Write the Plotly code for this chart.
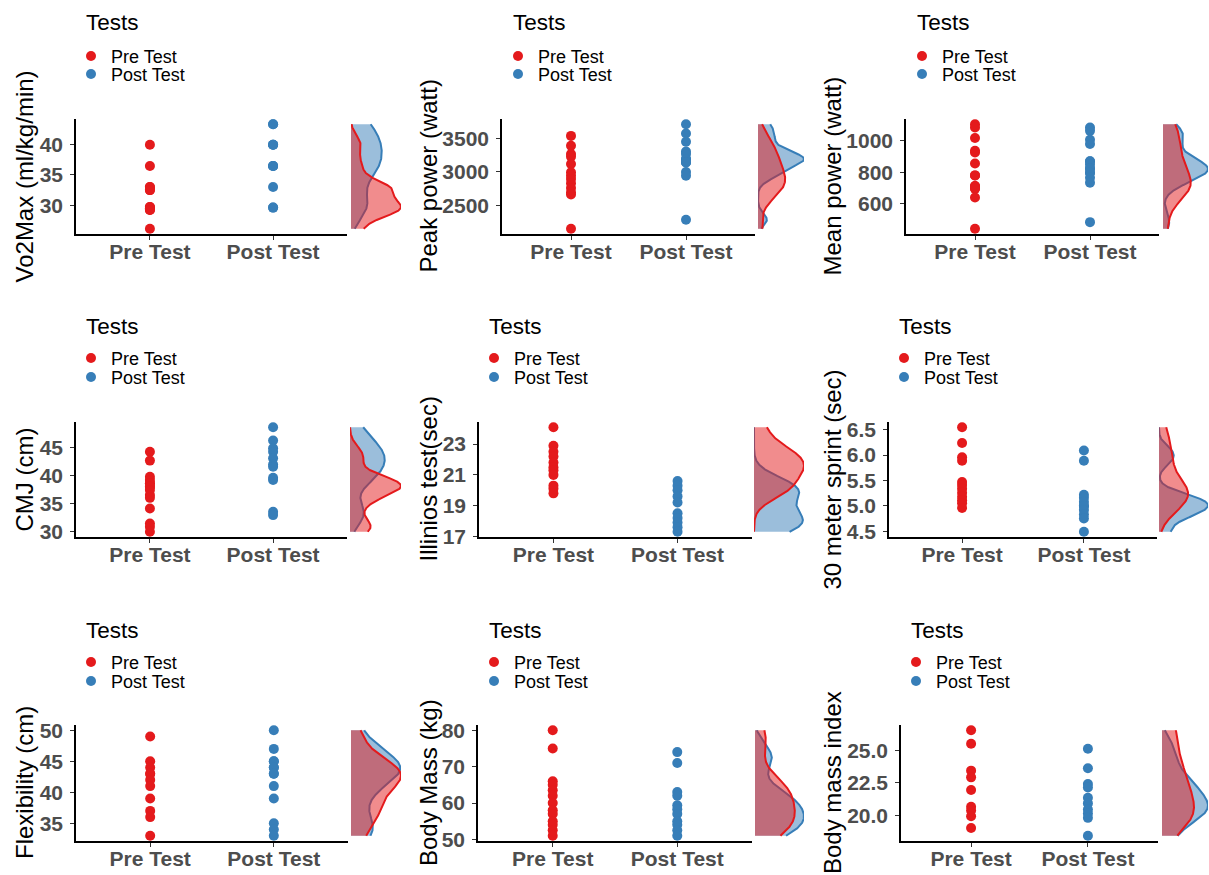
import numpy as np
import plotly.graph_objects as go

# ---------------- data ----------------
groups = ["Pre Test", "Post Test"]

vo2_pre = [40.0, 36.5, 33.0, 33.0, 32.5, 32.5, 29.7, 29.7, 29.5, 29.2, 29.2, 26.1]
vo2_post = [43.4, 43.4, 40.0, 40.0, 40.0, 36.5, 36.5, 36.5, 33.0, 29.6, 29.6]

peak_pre = [3534, 3387, 3264, 3224, 3116, 2993, 2943, 2894, 2830, 2761, 2697, 2663, 2155]
peak_post = [3707, 3569, 3446, 3303, 3264, 3190, 3190, 3140, 3140, 2998, 2943, 2288]

mean_pre = [1105, 1084, 1017, 937, 925, 856, 780, 780, 713, 713, 696, 696, 640, 441]
mean_post = [1084, 1063, 1006, 979, 870, 870, 849, 824, 824, 797, 797, 765, 734, 483]

cmj_pre = [44.3, 42.7, 39.8, 39.2, 38.6, 38.6, 38.0, 38.0, 37.4, 36.5, 36.0, 34.1, 31.4, 30.8, 29.9]
cmj_post = [48.7, 46.3, 44.9, 44.3, 43.1, 42.0, 41.6, 39.6, 39.2, 33.5, 32.9]

ill_pre = [24.1, 22.9, 22.5, 22.2, 21.8, 21.5, 21.3, 21.0, 20.3, 20.1, 19.8]
ill_post = [20.6, 20.3, 20.0, 19.6, 19.2, 18.5, 18.2, 17.9, 17.6, 17.3]

sprint_pre = [6.55, 6.24, 5.96, 5.89, 5.47, 5.41, 5.34, 5.26, 5.18, 5.11, 5.05, 4.96]
sprint_post = [6.09, 5.89, 5.22, 5.16, 5.08, 5.00, 5.00, 4.92, 4.83, 4.75, 4.49]

flex_pre = [49, 45, 44, 43, 43, 42, 41, 39, 37, 36, 33]
flex_post = [50, 47, 45, 45, 44, 44, 43, 43, 41, 39, 35, 34, 33]

mass_pre = [80, 75, 66, 65, 63.5, 62, 60, 58, 57, 55, 54, 52.5, 51]
mass_post = [74, 71, 63, 62, 59.4, 58.3, 57, 55, 54, 52.5, 51]

bmi_pre = [26.56, 25.52, 23.44, 22.92, 21.95, 20.65, 20.36, 19.92, 19.01]
bmi_post = [25.13, 23.62, 22.40, 22.14, 21.35, 20.91, 20.44, 20.13, 19.79, 18.41]

y_titles = ["Vo2Max (ml/kg/min)", "Peak power (watt)", "Mean power (watt)",
            "CMJ (cm)", "Illinios test(sec)", "30 meter sprint (sec)",
            "Flexibility (cm)", "Body Mass (kg)", "Body mass index"]

tick_vals = [[30, 35, 40], [2500, 3000, 3500], [600, 800, 1000],
             [30, 35, 40, 45], [17, 19, 21, 23], [4.5, 5.0, 5.5, 6.0, 6.5],
             [35, 40, 45, 50], [50, 60, 70, 80], [20.0, 22.5, 25.0]]
tick_text = [["30", "35", "40"], ["2500", "3000", "3500"], ["600", "800", "1000"],
             ["30", "35", "40", "45"], ["17", "19", "21", "23"], ["4.5", "5.0", "5.5", "6.0", "6.5"],
             ["35", "40", "45", "50"], ["50", "60", "70", "80"], ["20.0", "22.5", "25.0"]]

pre_sets = [vo2_pre, peak_pre, mean_pre, cmj_pre, ill_pre, sprint_pre, flex_pre, mass_pre, bmi_pre]
post_sets = [vo2_post, peak_post, mean_post, cmj_post, ill_post, sprint_post, flex_post, mass_post, bmi_post]

legend_title = "Tests"

# ---------------- style / layout ----------------
W, H = 1209, 875
col_pre, col_post = "#E41A1C", "#377EB8"
fill_pre, fill_post = "rgba(228,26,28,0.5)", "rgba(55,126,184,0.5)"
FONT = "Liberation Sans, Arial, Helvetica, sans-serif"

main_x = [(76, 347), (502, 755), (906, 1159), (76, 347), (479, 752), (889, 1157),
          (76, 348), (478, 752), (901, 1158)]
marg_x = [(351, 401), (758, 804), (1163, 1208), (350, 401), (754, 804), (1159, 1208),
          (351, 401), (755, 804), (1162, 1208)]
row_y = [(119, 234), (422, 537), (725, 841)]
ytitle_x = [24, 428, 832]
legend_x = [87, 514, 918, 87, 490, 900, 87, 490, 912]
legend_title_y = [23, 327, 630]
legend_item_y = [(56, 74), (358, 377), (662, 681)]
LEG_FS = 18
ITEM_HALF = (1.3 * LEG_FS + 3) / 2 + 5  # plotly legend: top -> first item centre


def fx(p):
    return p / W


def fy(p):
    return 1 - p / H


def bw_nrd0(x):
    x = np.asarray(x, dtype=float)
    hi = np.std(x, ddof=1)
    q75, q25 = np.percentile(x, [75, 25])
    lo = min(hi, (q75 - q25) / 1.34)
    if lo <= 0:
        lo = hi if hi > 0 else 1.0
    return 0.9 * lo * len(x) ** (-0.2)


def kde(x, grid):
    x = np.asarray(x, dtype=float)
    bw = bw_nrd0(x)
    z = (grid[:, None] - x[None, :]) / bw
    return np.exp(-0.5 * z ** 2).sum(axis=1) / (len(x) * bw * np.sqrt(2 * np.pi))


fig = go.Figure()
layout = dict(width=W, height=H, margin=dict(l=0, r=0, t=0, b=0, pad=0), autosize=False,
              paper_bgcolor="white", plot_bgcolor="rgba(0,0,0,0)",
              font=dict(family=FONT, color="black"), showlegend=True,
              annotations=[])

for i in range(9):
    r, c = divmod(i, 3)
    pre, post = pre_sets[i], post_sets[i]
    allv = np.array(pre + post, dtype=float)
    dmin, dmax = allv.min(), allv.max()
    span = dmax - dmin
    yr = [dmin - 0.05 * span, dmax + 0.05 * span]

    mx = 2 * i + 1
    gx = 2 * i + 2
    xa = "x" if mx == 1 else f"x{mx}"
    ya = "y" if mx == 1 else f"y{mx}"
    gxa, gya = f"x{gx}", f"y{gx}"
    legs = ["legend" if i == 0 else f"legend{2 * i + 1}", f"legend{2 * i + 2}"]

    # strip points
    for k, (g, vals, col) in enumerate((("Pre Test", pre, col_pre), ("Post Test", post, col_post))):
        fig.add_trace(go.Scatter(x=[g] * len(vals), y=vals, mode="markers", name=g,
                                 marker=dict(color=col, size=10),
                                 xaxis=xa, yaxis=ya, legend=legs[k], showlegend=True,
                                 hovertemplate=g + ": %{y}<extra></extra>"))
        layout[legs[k]] = dict(x=fx(legend_x[i] - 16), xanchor="left",
                               y=fy(legend_item_y[r][k] - ITEM_HALF), yanchor="top",
                               bgcolor="rgba(0,0,0,0)", borderwidth=0,
                               font=dict(family=FONT, size=LEG_FS, color="black"),
                               tracegroupgap=0)

    # marginal densities (Post first, Pre on top)
    grid = np.linspace(dmin, dmax, 512)
    d_post = kde(post, grid)
    d_pre = kde(pre, grid)
    for dens, col, fc, g in ((d_post, col_post, fill_post, "Post Test"),
                             (d_pre, col_pre, fill_pre, "Pre Test")):
        fig.add_trace(go.Scatter(x=dens, y=grid, mode="lines", fill="tozerox",
                                 fillcolor=fc, line=dict(color=col, width=2),
                                 xaxis=gxa, yaxis=gya, showlegend=False, name=g,
                                 hoverinfo="skip"))
    dens_max = max(d_post.max(), d_pre.max())

    y0, y1 = row_y[r]
    ydom = [fy(y1), fy(y0)]
    layout[f"xaxis{mx if mx > 1 else ''}"] = dict(
        domain=[fx(main_x[i][0]), fx(main_x[i][1])], anchor=ya, type="category",
        categoryorder="array", categoryarray=groups, range=[-0.6, 1.6],
        showline=True, linecolor="black", linewidth=1.6, ticks="outside", ticklen=4,
        tickwidth=1.4, tickcolor="#333333", showgrid=False, zeroline=False,
        tickfont=dict(family=FONT, size=21, color="#4D4D4D", weight="bold"),
        ticklabelstandoff=-6, automargin=False, fixedrange=True)
    layout[f"yaxis{mx if mx > 1 else ''}"] = dict(
        domain=ydom, anchor=xa, range=yr, tickvals=tick_vals[i], ticktext=tick_text[i],
        showline=True, linecolor="black", linewidth=1.6, ticks="outside", ticklen=4,
        tickwidth=1.4, tickcolor="#333333", showgrid=False, zeroline=False,
        tickfont=dict(family=FONT, size=21, color="#4D4D4D", weight="bold"),
        ticklabelstandoff=3, automargin=False, fixedrange=True)
    layout[f"xaxis{gx}"] = dict(domain=[fx(marg_x[i][0]), fx(marg_x[i][1])], anchor=gya,
                                range=[0, dens_max], visible=False, fixedrange=True)
    layout[f"yaxis{gx}"] = dict(domain=ydom, anchor=gxa, range=yr, visible=False,
                                fixedrange=True)

    # legend title
    layout["annotations"].append(dict(
        text=legend_title, x=fx(legend_x[i] - 3), y=fy(legend_title_y[r]), xref="paper",
        yref="paper", xanchor="left", yanchor="middle", showarrow=False,
        font=dict(family=FONT, size=22.5, color="black")))
    # y-axis title
    layout["annotations"].append(dict(
        text=y_titles[i], x=fx(ytitle_x[c]), y=fy((y0 + y1) / 2), xref="paper",
        yref="paper", xanchor="center", yanchor="middle", textangle=-90,
        showarrow=False, font=dict(family=FONT, size=24, color="black")))

fig.update_layout(**layout)
fig.write_html("out.html", config={"displayModeBar": False},
               post_script="document.body.style.margin='0px';")
